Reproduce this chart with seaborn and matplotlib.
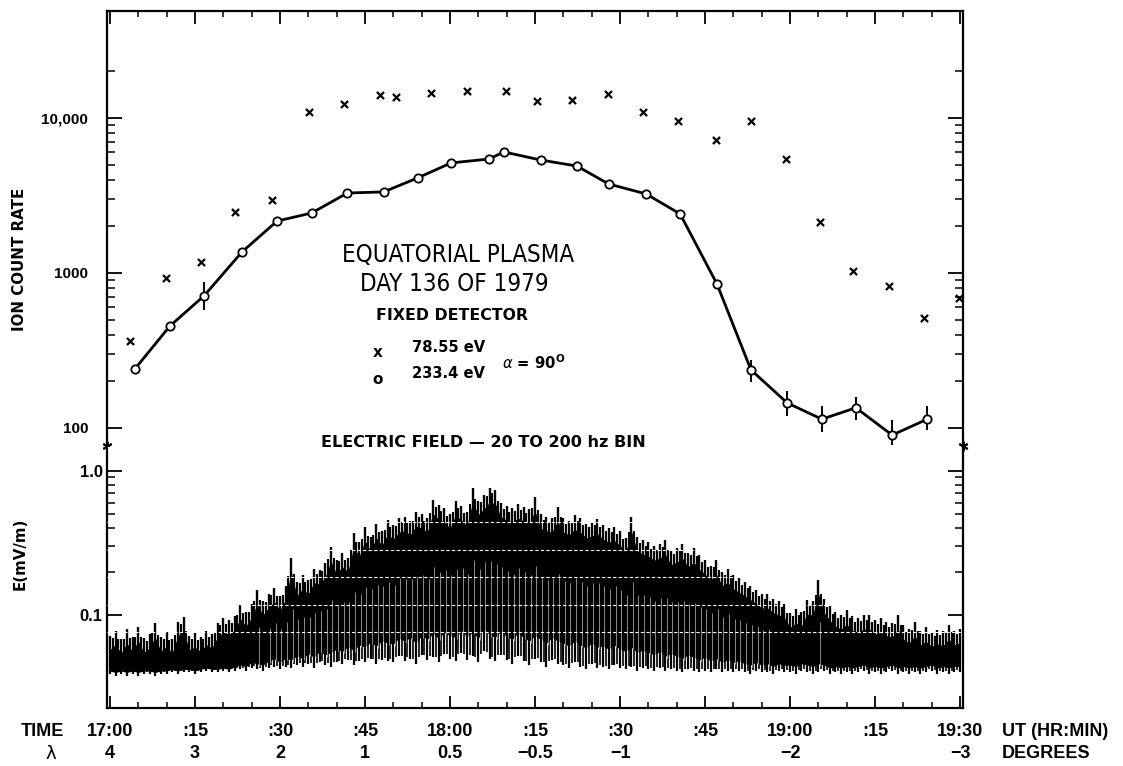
import numpy as np
import pandas as pd
import matplotlib
matplotlib.use("Agg")
import matplotlib.pyplot as plt
import matplotlib.transforms as mtransforms
from matplotlib.ticker import FixedLocator, MultipleLocator, NullFormatter
import seaborn as sns

# ---------------- data ----------------
# minutes after 17:00 UT
ion_x_min = [3.5, 9.9, 16.1, 22.1, 28.6, 35.1, 41.3, 47.6, 50.5, 56.6, 63.0, 69.9, 75.4,
             81.5, 87.9, 94.1, 100.2, 106.9, 113.1, 119.3, 125.3, 131.1, 137.5, 143.6, 149.8]
ion_x_rate = [364, 929, 1178, 2477, 2958, 10930, 12310, 14070, 13660, 14500, 14930, 14930, 12870,
              13060, 14290, 10930, 9565, 7210, 9565, 5440, 2133, 1031, 825, 513, 690]

ion_o_min = [4.4, 10.6, 16.6, 23.3, 29.5, 35.6, 41.9, 48.3, 54.3, 60.2, 66.9, 69.5, 76.0,
             82.4, 88.0, 94.6, 100.6, 107.1, 113.1, 119.5, 125.6, 131.6, 138.0, 144.2]
ion_o_rate = [240, 455, 711, 1365, 2163, 2437, 3281, 3334, 4105, 5129, 5436, 6040, 5357,
              4897, 3750, 3237, 2404, 849, 237, 145, 114, 135, 90, 114]

err_min = [16.6, 113.1, 119.5, 125.6, 131.6, 138.0, 144.2]
err_lo = [577, 198, 120, 94, 113, 78, 97]
err_hi = [873, 275, 173, 139, 159, 113, 139]

ion_major_ticks = [100, 1000, 10000]
ion_major_labels = ["100", "1000", "10,000"]
ion_minor_ticks = [200, 300, 400, 500, 600, 700, 800, 900,
                   2000, 3000, 4000, 5000, 6000, 7000, 8000, 9000, 20000]

# electric field, one sample per minute (17:00 .. 19:30)
e_minutes = list(range(0, 151))
e_top = [0.072, 0.078, 0.068, 0.080, 0.070, 0.083, 0.069, 0.074, 0.088, 0.070,
         0.076, 0.068, 0.090, 0.097, 0.072, 0.075, 0.070, 0.078, 0.074, 0.088,
         0.095, 0.092, 0.098, 0.118, 0.105, 0.120, 0.150, 0.125, 0.140, 0.155,
         0.135, 0.160, 0.250, 0.170, 0.190, 0.175, 0.210, 0.205, 0.230, 0.296,
         0.240, 0.270, 0.250, 0.370, 0.320, 0.410, 0.350, 0.430, 0.380, 0.455,
         0.420, 0.470, 0.480, 0.450, 0.520, 0.500, 0.470, 0.630, 0.580, 0.550,
         0.500, 0.620, 0.570, 0.520, 0.760, 0.620, 0.680, 0.760, 0.740, 0.600,
         0.570, 0.550, 0.590, 0.560, 0.540, 0.660, 0.500, 0.480, 0.470, 0.560,
         0.470, 0.450, 0.490, 0.470, 0.430, 0.440, 0.460, 0.420, 0.400, 0.410,
         0.380, 0.340, 0.480, 0.350, 0.330, 0.320, 0.300, 0.310, 0.330, 0.280,
         0.290, 0.310, 0.270, 0.290, 0.260, 0.240, 0.220, 0.240, 0.200, 0.210,
         0.190, 0.180, 0.170, 0.160, 0.150, 0.140, 0.140, 0.130, 0.125, 0.120,
         0.103, 0.110, 0.105, 0.127, 0.125, 0.175, 0.130, 0.115, 0.105, 0.100,
         0.108, 0.098, 0.095, 0.100, 0.100, 0.092, 0.095, 0.090, 0.088, 0.100,
         0.085, 0.080, 0.090, 0.078, 0.082, 0.076, 0.079, 0.077, 0.085, 0.078, 0.080]
e_floor = [0.039, 0.038, 0.039, 0.038, 0.039, 0.038, 0.039, 0.039, 0.038, 0.039,
           0.039, 0.040, 0.039, 0.040, 0.040, 0.039, 0.040, 0.041, 0.040, 0.040,
           0.041, 0.040, 0.041, 0.042, 0.041, 0.043, 0.042, 0.041, 0.043, 0.044,
           0.042, 0.044, 0.043, 0.045, 0.044, 0.046, 0.043, 0.047, 0.045, 0.044,
           0.047, 0.046, 0.049, 0.045, 0.048, 0.047, 0.050, 0.046, 0.049, 0.048,
           0.047, 0.052, 0.048, 0.050, 0.046, 0.053, 0.049, 0.051, 0.047, 0.054,
           0.050, 0.048, 0.055, 0.049, 0.052, 0.047, 0.056, 0.050, 0.048, 0.053,
           0.049, 0.046, 0.052, 0.048, 0.045, 0.050, 0.047, 0.044, 0.049, 0.046,
           0.045, 0.043, 0.047, 0.044, 0.042, 0.046, 0.043, 0.044, 0.042, 0.045,
           0.043, 0.042, 0.044, 0.041, 0.043, 0.042, 0.041, 0.043, 0.041, 0.042,
           0.041, 0.040, 0.042, 0.041, 0.040, 0.041, 0.040, 0.042, 0.040, 0.041,
           0.040, 0.041, 0.040, 0.039, 0.041, 0.040, 0.040, 0.039, 0.041, 0.040,
           0.040, 0.039, 0.041, 0.040, 0.039, 0.040, 0.041, 0.039, 0.040, 0.039,
           0.040, 0.039, 0.040, 0.041, 0.039, 0.040, 0.039, 0.040, 0.041, 0.039,
           0.040, 0.039, 0.040, 0.039, 0.040, 0.041, 0.039, 0.040, 0.039, 0.040, 0.040]
e_dense = [0.041, 0.040, 0.041, 0.040, 0.041, 0.040, 0.041, 0.041, 0.040, 0.041,
           0.041, 0.042, 0.041, 0.042, 0.042, 0.041, 0.042, 0.043, 0.042, 0.042,
           0.043, 0.042, 0.044, 0.045, 0.044, 0.047, 0.046, 0.045, 0.048, 0.050,
           0.047, 0.050, 0.049, 0.052, 0.050, 0.054, 0.051, 0.056, 0.053, 0.055,
           0.058, 0.056, 0.060, 0.057, 0.062, 0.060, 0.065, 0.061, 0.066, 0.064,
           0.063, 0.069, 0.066, 0.070, 0.064, 0.072, 0.068, 0.074, 0.069, 0.076,
           0.072, 0.070, 0.078, 0.071, 0.076, 0.069, 0.080, 0.073, 0.070, 0.077,
           0.071, 0.068, 0.075, 0.070, 0.066, 0.072, 0.068, 0.064, 0.070, 0.066,
           0.064, 0.061, 0.066, 0.062, 0.059, 0.064, 0.060, 0.061, 0.058, 0.062,
           0.058, 0.056, 0.060, 0.055, 0.057, 0.055, 0.053, 0.056, 0.052, 0.054,
           0.052, 0.050, 0.053, 0.051, 0.049, 0.051, 0.048, 0.050, 0.047, 0.049,
           0.047, 0.048, 0.046, 0.045, 0.047, 0.045, 0.046, 0.044, 0.046, 0.045,
           0.045, 0.044, 0.046, 0.045, 0.044, 0.046, 0.045, 0.043, 0.044, 0.043,
           0.044, 0.043, 0.044, 0.045, 0.043, 0.044, 0.043, 0.044, 0.045, 0.043,
           0.044, 0.043, 0.044, 0.043, 0.044, 0.045, 0.043, 0.044, 0.043, 0.044, 0.044]
e_grid_levels = [0.441, 0.282, 0.183, 0.117, 0.0762]
e_major_ticks = [0.1, 1.0]
e_major_labels = ["0.1", "1.0"]
e_minor_ticks = [0.2, 0.3, 0.4, 0.5, 0.6, 0.7, 0.8, 0.9]

time_ticks = [0, 15, 30, 45, 60, 75, 90, 105, 120, 135, 150]
time_labels = ["17:00", ":15", ":30", ":45", "18:00", ":15", ":30", ":45", "19:00", ":15", "19:30"]
lambda_min = [0, 15, 30, 45, 60, 75, 90, 120, 150]
lambda_labels = ["4", "3", "2", "1", "0.5", "\u22120.5", "\u22121", "\u22122", "\u22123"]

# ---------------- styling ----------------
sns.set_theme(style="ticks")
plt.rcParams["font.family"] = ["DejaVu Sans"]
plt.rcParams["axes.linewidth"] = 1.6
plt.rcParams["axes.edgecolor"] = "black"

BOLD = dict(family="DejaVu Sans", weight="bold", color="black")
LIB = dict(family="Liberation Sans", weight="bold", color="black")

W, H = 1123, 766
fig = plt.figure(figsize=(W / 100, H / 100), dpi=100, facecolor="white")
ax1 = fig.add_axes([107 / W, 1 - 447 / H, (963 - 107) / W, (447 - 11) / H])
ax2 = fig.add_axes([107 / W, 1 - 708 / H, (963 - 107) / W, (708 - 447) / H])

# ---------------- upper panel: ion count rate ----------------
ax1.set_yscale("log")
ax1.set_xlim(-0.5, 150.5)
ax1.set_ylim(75.4, 49000)

ax1.vlines(err_min, err_lo, err_hi, color="black", lw=1.4, zorder=2)
sns.lineplot(x=ion_o_min, y=ion_o_rate, ax=ax1, color="black", lw=2.0, marker="o",
             markersize=6, markerfacecolor="white", markeredgecolor="black",
             markeredgewidth=1.3, zorder=3, sort=False)
sns.scatterplot(x=ion_x_min, y=ion_x_rate, ax=ax1, marker="x", s=26, color="black",
                linewidth=1.6, zorder=3)

ax1.spines["bottom"].set_visible(False)
ax1.xaxis.set_major_locator(MultipleLocator(15))
ax1.xaxis.set_minor_locator(MultipleLocator(5))
ax1.tick_params(axis="x", which="both", direction="in", bottom=False, top=True,
                labelbottom=False, labeltop=False, color="black")
ax1.tick_params(axis="x", which="major", length=9, width=1.3)
ax1.tick_params(axis="x", which="minor", length=4.5, width=1.1)
ax1.set_yticks(ion_major_ticks, labels=ion_major_labels, fontsize=11, **LIB)
ax1.yaxis.set_minor_locator(FixedLocator(ion_minor_ticks))
ax1.yaxis.set_minor_formatter(NullFormatter())
ax1.tick_params(axis="y", which="both", direction="in", left=True, right=True, color="black")
ax1.tick_params(axis="y", which="major", length=11, width=1.3, pad=13.5)
ax1.tick_params(axis="y", which="minor", length=6, width=1.1)
ax1.set_ylim(75.4, 49000)
ax1.set_xlabel("")
ax1.set_ylabel("")

# break marks at the panel join
ax1.plot([0, 1], [0.003, 0.003], transform=ax1.transAxes, ls="none", marker=(6, 2, 0),
         ms=7, mew=1.4, color="black", clip_on=False, zorder=5)

# ---------------- lower panel: electric field ----------------
ax2.set_yscale("log")
e_t = np.array(e_minutes, dtype=float)
e_hi = np.array(e_top)
e_mid = np.array(e_dense)
e_lo = np.array(e_floor)
e_half_t = e_t[:-1] + 0.5
e_half_hi = np.sqrt(e_hi[:-1] * e_hi[1:]) * 0.93
e_half_mid = np.sqrt(e_mid[:-1] * e_mid[1:])
e_half_lo = np.sqrt(e_lo[:-1] * e_lo[1:]) * 1.04

# solid core of the trace, slightly below the spike tops
ax2.fill_between(e_t, e_mid, e_hi * 0.80, color="black", lw=0, zorder=2)
# spikes (needles) rising above the core
ax2.vlines(e_t, e_mid, e_hi, color="black", lw=1.7, zorder=2)
ax2.vlines(e_half_t, e_half_mid, e_half_hi, color="black", lw=1.5, zorder=2)
# descending traces below the core
ax2.vlines(e_t, e_lo, e_mid, color="black", lw=1.6, zorder=2)
ax2.vlines(e_half_t, e_half_lo, e_half_mid, color="black", lw=1.2, zorder=2)
# fine white streaks inside the central part of the record
streak = e_hi > 0.13
ax2.vlines(e_t[streak] + 0.25, e_mid[streak] * 0.97, np.sqrt(e_mid * e_hi)[streak],
           color="white", lw=0.45, alpha=0.85, zorder=3)
for lev in e_grid_levels:
    ax2.axhline(lev, color="white", lw=0.8, ls=(0, (3, 2)), zorder=4)
ax2.set_xlim(-0.5, 150.5)
ax2.set_ylim(0.0227, 1.46)

ax2.spines["top"].set_visible(False)
ax2.set_xticks(time_ticks, labels=time_labels, fontsize=13, **LIB)
ax2.xaxis.set_minor_locator(MultipleLocator(5))
ax2.tick_params(axis="x", which="both", direction="in", bottom=True, top=False, color="black")
ax2.tick_params(axis="x", which="major", length=9, width=1.3, pad=11)
ax2.tick_params(axis="x", which="minor", length=4.5, width=1.1)
ax2.set_yticks(e_major_ticks, labels=e_major_labels, fontsize=12, **LIB)
ax2.yaxis.set_minor_locator(FixedLocator(e_minor_ticks))
ax2.yaxis.set_minor_formatter(NullFormatter())
ax2.tick_params(axis="y", which="both", direction="in", left=True, right=True, color="black")
ax2.tick_params(axis="y", which="major", length=11, width=1.3, pad=3)
ax2.tick_params(axis="y", which="minor", length=6, width=1.1)
ax2.set_xlim(-0.5, 150.5)
ax2.set_ylim(0.0227, 1.46)

# latitude row
blend = mtransforms.blended_transform_factory(ax2.transData, fig.transFigure)
for t, lab in zip(lambda_min, lambda_labels):
    ax2.text(t, 1 - 754 / H, lab, transform=blend, ha="center", va="center",
             fontsize=13, clip_on=False, **LIB)

# ---------------- figure texts ----------------
fig.text(42 / W, 1 - 731 / H, "TIME", ha="center", va="center", fontsize=13, **LIB)
fig.text(51 / W, 1 - 754 / H, "\u03bb", ha="center", va="center", fontsize=13,
         family="DejaVu Sans", color="black")
fig.text(1002 / W, 1 - 731 / H, "UT (HR:MIN)", ha="left", va="center", fontsize=13, **LIB)
fig.text(1002 / W, 1 - 754 / H, "DEGREES", ha="left", va="center", fontsize=13, **LIB)

fig.text(19.5 / W, 1 - 259 / H, "ION COUNT RATE", rotation=90, ha="center", va="center",
         fontsize=10.8, **BOLD)
fig.text(20 / W, 1 - 554 / H, "E(mV/m)", rotation=90, ha="center", va="center",
         fontsize=10.8, **BOLD)

fig.text(458 / W, 1 - 255 / H, "EQUATORIAL PLASMA", ha="center", va="center", fontsize=17.3,
         family="DejaVu Sans", fontstretch="condensed", color="black")
fig.text(454 / W, 1 - 284 / H, "DAY 136 OF 1979", ha="center", va="center", fontsize=17.3,
         family="DejaVu Sans", fontstretch="condensed", color="black")
fig.text(452 / W, 1 - 315 / H, "FIXED DETECTOR", ha="center", va="center", fontsize=11.3, **BOLD)
fig.text(378 / W, 1 - 352 / H, "x", ha="center", va="center", fontsize=11, **BOLD)
fig.text(412 / W, 1 - 347 / H, "78.55 eV", ha="left", va="center", fontsize=10.6, **BOLD)
fig.text(378 / W, 1 - 380 / H, "o", ha="center", va="center", fontsize=11, **BOLD)
fig.text(412 / W, 1 - 374 / H, "233.4 eV", ha="left", va="center", fontsize=10.6, **BOLD)
fig.text(502 / W, 1 - 363 / H, r"$\alpha$ = 90$^{\mathbf{O}}$", ha="left", va="center",
         fontsize=10.6, **BOLD)
fig.text(483 / W, 1 - 443 / H, "ELECTRIC FIELD \u2014 20 TO 200 hz BIN", ha="center",
         va="center", fontsize=11.5, **BOLD)

fig.savefig("out.png", dpi=100, facecolor="white")
